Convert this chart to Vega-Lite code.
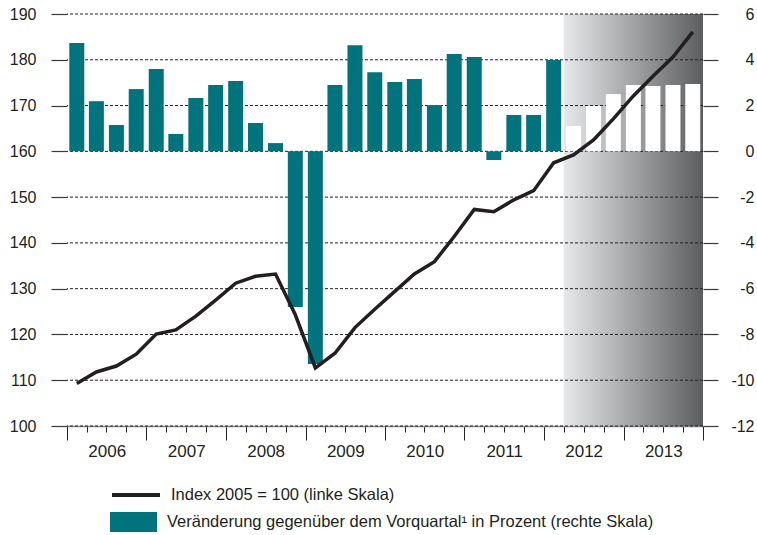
{
  "$schema": "https://vega.github.io/schema/vega-lite/v6.json",
  "width": 636,
  "height": 412,
  "autosize": {"type": "none"},
  "padding": {"left": 67, "top": 14, "right": 54, "bottom": 109},
  "config": {
    "view": {"stroke": null},
    "font": "Liberation Sans",
    "axis": {"labelFont": "Liberation Sans", "labelColor": "#231f20", "labelFontSize": 16},
    "legend": {"labelFont": "Liberation Sans", "labelColor": "#231f20"}
  },
  "datasets": {
    "quarters": [
      {"q": "2006-02-15", "idx": 109.3, "chg": 4.73, "fc": false},
      {"q": "2006-05-16", "idx": 111.8, "chg": 2.19, "fc": false},
      {"q": "2006-08-16", "idx": 113.1, "chg": 1.15, "fc": false},
      {"q": "2006-11-15", "idx": 115.7, "chg": 2.72, "fc": false},
      {"q": "2007-02-15", "idx": 120.1, "chg": 3.6, "fc": false},
      {"q": "2007-05-16", "idx": 121.0, "chg": 0.76, "fc": false},
      {"q": "2007-08-16", "idx": 124.0, "chg": 2.33, "fc": false},
      {"q": "2007-11-15", "idx": 127.5, "chg": 2.9, "fc": false},
      {"q": "2008-02-15", "idx": 131.2, "chg": 3.07, "fc": false},
      {"q": "2008-05-16", "idx": 132.7, "chg": 1.24, "fc": false},
      {"q": "2008-08-16", "idx": 133.2, "chg": 0.36, "fc": false},
      {"q": "2008-11-15", "idx": 124.3, "chg": -6.8, "fc": false},
      {"q": "2009-02-15", "idx": 112.7, "chg": -9.29, "fc": false},
      {"q": "2009-05-16", "idx": 115.9, "chg": 2.9, "fc": false},
      {"q": "2009-08-16", "idx": 121.5, "chg": 4.64, "fc": false},
      {"q": "2009-11-15", "idx": 125.5, "chg": 3.46, "fc": false},
      {"q": "2010-02-15", "idx": 129.4, "chg": 3.03, "fc": false},
      {"q": "2010-05-16", "idx": 133.2, "chg": 3.16, "fc": false},
      {"q": "2010-08-16", "idx": 135.9, "chg": 2.02, "fc": false},
      {"q": "2010-11-15", "idx": 141.4, "chg": 4.25, "fc": false},
      {"q": "2011-02-15", "idx": 147.3, "chg": 4.12, "fc": false},
      {"q": "2011-05-16", "idx": 146.8, "chg": -0.38, "fc": false},
      {"q": "2011-08-16", "idx": 149.4, "chg": 1.59, "fc": false},
      {"q": "2011-11-15", "idx": 151.4, "chg": 1.59, "fc": false},
      {"q": "2012-02-15", "idx": 157.5, "chg": 3.99, "fc": false},
      {"q": "2012-05-16", "idx": 159.2, "chg": 1.11, "fc": true},
      {"q": "2012-08-16", "idx": 162.5, "chg": 1.98, "fc": true},
      {"q": "2012-11-15", "idx": 167.1, "chg": 2.5, "fc": true},
      {"q": "2013-02-15", "idx": 172.1, "chg": 2.9, "fc": true},
      {"q": "2013-05-16", "idx": 176.4, "chg": 2.85, "fc": true},
      {"q": "2013-08-16", "idx": 180.6, "chg": 2.9, "fc": true},
      {"q": "2013-11-15", "idx": 186.1, "chg": 2.94, "fc": true}
    ],
    "forecast": [{"start": "2012-04-01", "end": "2014-01-01"}],
    "grid": [{"g": 100}, {"g": 110}, {"g": 120}, {"g": 130}, {"g": 140}, {"g": 150}, {"g": 160}, {"g": 170}, {"g": 180}, {"g": 190}]
  },
  "layer": [
    {
      "data": {"name": "forecast"},
      "mark": {
        "type": "rect",
        "fill": {"gradient": "linear", "x1": 0, "x2": 1, "y1": 0, "y2": 0, "stops": [{"offset": 0, "color": "#e7e8ea"}, {"offset": 1, "color": "#5c5d5f"}]}
      },
      "encoding": {
        "x": {
          "field": "start", "type": "temporal",
          "scale": {"type": "utc", "domain": [{"year": 2006, "month": 1, "date": 1, "utc": true}, {"year": 2014, "month": 1, "date": 1, "utc": true}], "nice": false, "padding": 0},
          "axis": {
            "title": null,
            "tickCount": {"interval": "month", "step": 3},
            "tickSize": {"condition": {"test": "utcmonth(datum.value) == 0", "value": 14}, "value": 6},
            "tickColor": "#231f20",
            "tickWidth": 1,
            "domainColor": "#8a8a8a",
            "domainWidth": 1.5,
            "grid": false,
            "labelExpr": "utcmonth(datum.value) == 0 && utcyear(datum.value) < 2014 ? utcFormat(datum.value, '%Y') : ''",
            "labelOffset": 39.75,
            "labelPadding": 3,
            "labelFontSize": 17,
            "labelOverlap": false,
            "labelFlush": false,
            "labelBound": false
          }
        },
        "x2": {"field": "end"}
      }
    },
    {
      "data": {"name": "grid"},
      "mark": {"type": "rule", "stroke": "#231f20", "strokeWidth": 1, "strokeDash": [3, 2]},
      "encoding": {
        "y": {
          "field": "g", "type": "quantitative",
          "scale": {"domain": [100, 190], "nice": false, "zero": false},
          "axis": {
            "orient": "left", "title": null,
            "values": [100, 110, 120, 130, 140, 150, 160, 170, 180, 190],
            "grid": false, "domain": false,
            "tickSize": 16, "tickColor": "#3a3a3a", "tickWidth": 1.2,
            "labelPadding": 15
          }
        }
      }
    },
    {
      "data": {"name": "quarters"},
      "mark": {"type": "bar", "size": 15},
      "encoding": {
        "x": {"field": "q", "type": "temporal"},
        "y": {
          "field": "chg", "type": "quantitative",
          "scale": {"domain": [-12, 6], "nice": false},
          "axis": {
            "orient": "right", "title": null,
            "values": [-12, -10, -8, -6, -4, -2, 0, 2, 4, 6],
            "labelExpr": "'' + datum.value",
            "grid": false, "domain": false,
            "tickSize": 15, "tickColor": "#3a3a3a", "tickWidth": 1.2,
            "labelAlign": "right", "labelPadding": 36
          }
        },
        "fill": {
          "condition": {"test": "datum.fc", "value": "#ffffff"},
          "datum": "Veränderung gegenüber dem Vorquartal¹ in Prozent (rechte Skala)",
          "type": "nominal",
          "scale": {"range": ["#00737c"]},
          "legend": {
            "orient": "none", "legendX": 43, "legendY": 484.5,
            "title": null, "padding": 0,
            "symbolType": "M-1,-0.43H1V0.43H-1Z", "symbolSize": 2209, "symbolStrokeWidth": 0,
            "symbolFillColor": "#00737c",
            "labelFontSize": 16.5, "labelOffset": 10, "labelLimit": 700
          }
        }
      }
    },
    {
      "data": {"name": "quarters"},
      "mark": {"type": "line", "strokeWidth": 3.5, "strokeJoin": "miter"},
      "encoding": {
        "x": {"field": "q", "type": "temporal"},
        "y": {
          "field": "idx", "type": "quantitative",
          "scale": {"domain": [100, 190], "nice": false, "zero": false},
          "axis": null
        },
        "stroke": {
          "datum": "Index 2005 = 100 (linke Skala)",
          "type": "nominal",
          "scale": {"range": ["#231f20"]},
          "legend": {
            "orient": "none", "legendX": 43, "legendY": 455,
            "title": null, "padding": 0,
            "symbolType": "stroke", "symbolSize": 2304, "symbolStrokeWidth": 4,
            "labelFontSize": 16.5, "labelOffset": 9, "labelLimit": 700
          }
        }
      }
    }
  ],
  "resolve": {"scale": {"y": "independent", "fill": "independent", "stroke": "independent"}}
}
